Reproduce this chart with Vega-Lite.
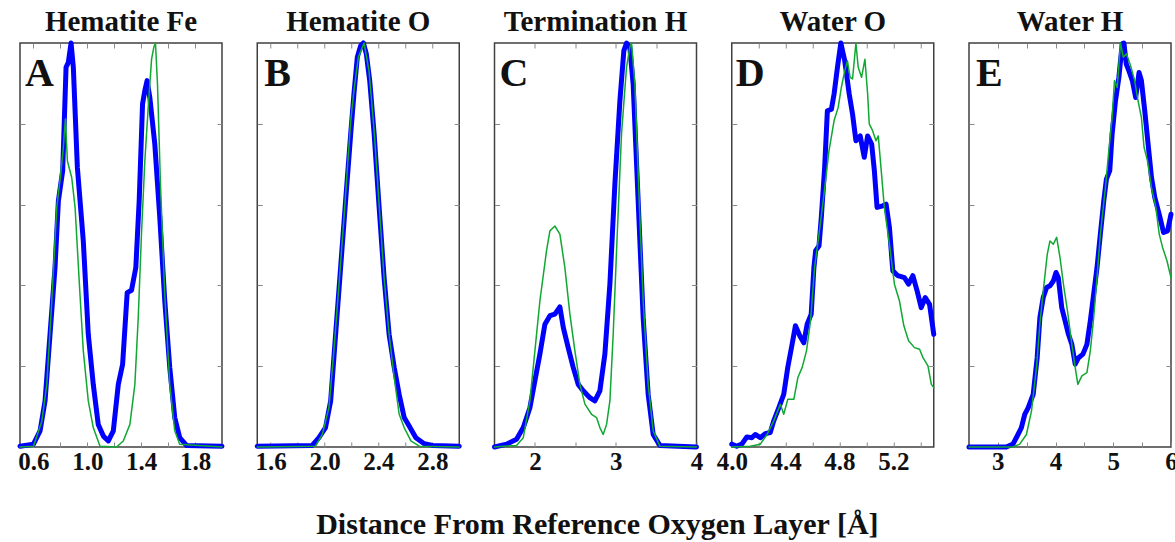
{
"$schema": "https://vega.github.io/schema/vega-lite/v6.json",
"padding": {"left": 16, "top": 6, "right": 0, "bottom": 0},
"background": "white",
"spacing": 35.25,
"bounds": "flush",
"title": {"text": "Distance From Reference Oxygen Layer [Å]", "orient": "bottom", "anchor": "middle", "fontSize": 30, "offset": 59, "baseline": "alphabetic"},
"config": {
  "view": {"stroke": "#404040", "strokeWidth": 1.5},
  "axis": {"domain": false, "grid": false, "tickColor": "#888888", "tickSize": -5, "tickWidth": 1, "labelFont": "Liberation Serif", "labelFontWeight": "bold", "labelFontSize": 25, "labelColor": "#111111", "labelPadding": 7, "labelFlush": false, "labelOverlap": false, "labelBound": false},
  "title": {"font": "Liberation Serif", "fontSize": 29, "fontWeight": "bold", "color": "#111111", "baseline": "alphabetic", "offset": 0},
  "line": {"strokeJoin": "round", "strokeCap": "round"}
},
"datasets": {
  "labels": [{"panel": "A", "letter": "A"}, {"panel": "B", "letter": "B"}, {"panel": "C", "letter": "C"}, {"panel": "D", "letter": "D"}, {"panel": "E", "letter": "E"}],
  "curves": [
{"panel":"A","series":"blue","x":0.5,"y":0.002},{"panel":"A","series":"blue","x":0.6,"y":0.007},{"panel":"A","series":"blue","x":0.649,"y":0.04},{"panel":"A","series":"blue","x":0.686,"y":0.114},{"panel":"A","series":"blue","x":0.723,"y":0.279},{"panel":"A","series":"blue","x":0.76,"y":0.444},{"panel":"A","series":"blue","x":0.785,"y":0.609},{"panel":"A","series":"blue","x":0.817,"y":0.684},{"panel":"A","series":"blue","x":0.842,"y":0.94},{"panel":"A","series":"blue","x":0.859,"y":0.952},{"panel":"A","series":"blue","x":0.879,"y":1.0},{"panel":"A","series":"blue","x":0.896,"y":0.94},{"panel":"A","series":"blue","x":0.926,"y":0.692},{"panel":"A","series":"blue","x":0.97,"y":0.51},{"panel":"A","series":"blue","x":1.007,"y":0.279},{"panel":"A","series":"blue","x":1.044,"y":0.155},{"panel":"A","series":"blue","x":1.081,"y":0.056},{"panel":"A","series":"blue","x":1.119,"y":0.027},{"panel":"A","series":"blue","x":1.156,"y":0.015},{"panel":"A","series":"blue","x":1.193,"y":0.04},{"panel":"A","series":"blue","x":1.23,"y":0.155},{"panel":"A","series":"blue","x":1.262,"y":0.205},{"panel":"A","series":"blue","x":1.296,"y":0.382},{"panel":"A","series":"blue","x":1.328,"y":0.388},{"panel":"A","series":"blue","x":1.36,"y":0.444},{"panel":"A","series":"blue","x":1.385,"y":0.609},{"panel":"A","series":"blue","x":1.41,"y":0.849},{"panel":"A","series":"blue","x":1.427,"y":0.882},{"panel":"A","series":"blue","x":1.444,"y":0.907},{"panel":"A","series":"blue","x":1.464,"y":0.865},{"panel":"A","series":"blue","x":1.501,"y":0.75},{"panel":"A","series":"blue","x":1.538,"y":0.568},{"panel":"A","series":"blue","x":1.575,"y":0.362},{"panel":"A","series":"blue","x":1.612,"y":0.197},{"panel":"A","series":"blue","x":1.649,"y":0.073},{"panel":"A","series":"blue","x":1.686,"y":0.023},{"panel":"A","series":"blue","x":1.736,"y":0.004},{"panel":"A","series":"blue","x":2.0,"y":0.002},
{"panel":"A","series":"green","x":0.5,"y":0},{"panel":"A","series":"green","x":0.6,"y":0.002},{"panel":"A","series":"green","x":0.662,"y":0.064},{"panel":"A","series":"green","x":0.699,"y":0.155},{"panel":"A","series":"green","x":0.736,"y":0.362},{"panel":"A","series":"green","x":0.773,"y":0.593},{"panel":"A","series":"green","x":0.802,"y":0.675},{"panel":"A","series":"green","x":0.822,"y":0.742},{"panel":"A","series":"green","x":0.837,"y":0.812},{"panel":"A","series":"green","x":0.852,"y":0.708},{"panel":"A","series":"green","x":0.884,"y":0.667},{"panel":"A","series":"green","x":0.909,"y":0.593},{"panel":"A","series":"green","x":0.941,"y":0.403},{"panel":"A","series":"green","x":0.97,"y":0.238},{"panel":"A","series":"green","x":1.007,"y":0.114},{"panel":"A","series":"green","x":1.044,"y":0.048},{"panel":"A","series":"green","x":1.094,"y":0.002},{"panel":"A","series":"green","x":1.217,"y":0},{"panel":"A","series":"green","x":1.267,"y":0.015},{"panel":"A","series":"green","x":1.316,"y":0.056},{"panel":"A","series":"green","x":1.353,"y":0.155},{"panel":"A","series":"green","x":1.378,"y":0.32},{"panel":"A","series":"green","x":1.402,"y":0.527},{"panel":"A","series":"green","x":1.427,"y":0.708},{"panel":"A","series":"green","x":1.452,"y":0.84},{"panel":"A","series":"green","x":1.477,"y":0.96},{"panel":"A","series":"green","x":1.494,"y":0.99},{"panel":"A","series":"green","x":1.506,"y":1.0},{"panel":"A","series":"green","x":1.521,"y":0.898},{"panel":"A","series":"green","x":1.543,"y":0.651},{"panel":"A","series":"green","x":1.575,"y":0.378},{"panel":"A","series":"green","x":1.612,"y":0.155},{"panel":"A","series":"green","x":1.649,"y":0.04},{"panel":"A","series":"green","x":1.686,"y":0.007},{"panel":"A","series":"green","x":2.0,"y":0},
{"panel":"B","series":"blue","x":1.5,"y":0.002},{"panel":"B","series":"blue","x":1.908,"y":0.004},{"panel":"B","series":"blue","x":1.958,"y":0.023},{"panel":"B","series":"blue","x":2.007,"y":0.048},{"panel":"B","series":"blue","x":2.045,"y":0.114},{"panel":"B","series":"blue","x":2.082,"y":0.279},{"panel":"B","series":"blue","x":2.119,"y":0.444},{"panel":"B","series":"blue","x":2.156,"y":0.609},{"panel":"B","series":"blue","x":2.194,"y":0.775},{"panel":"B","series":"blue","x":2.218,"y":0.874},{"panel":"B","series":"blue","x":2.243,"y":0.965},{"panel":"B","series":"blue","x":2.268,"y":0.993},{"panel":"B","series":"blue","x":2.288,"y":1.0},{"panel":"B","series":"blue","x":2.31,"y":0.973},{"panel":"B","series":"blue","x":2.335,"y":0.907},{"panel":"B","series":"blue","x":2.368,"y":0.775},{"panel":"B","series":"blue","x":2.405,"y":0.593},{"panel":"B","series":"blue","x":2.442,"y":0.419},{"panel":"B","series":"blue","x":2.479,"y":0.279},{"panel":"B","series":"blue","x":2.517,"y":0.197},{"panel":"B","series":"blue","x":2.554,"y":0.13},{"panel":"B","series":"blue","x":2.591,"y":0.073},{"panel":"B","series":"blue","x":2.628,"y":0.052},{"panel":"B","series":"blue","x":2.678,"y":0.023},{"panel":"B","series":"blue","x":2.74,"y":0.008},{"panel":"B","series":"blue","x":2.802,"y":0.004},{"panel":"B","series":"blue","x":3.0,"y":0.002},
{"panel":"B","series":"green","x":1.5,"y":0},{"panel":"B","series":"green","x":1.933,"y":0.002},{"panel":"B","series":"green","x":1.983,"y":0.031},{"panel":"B","series":"green","x":2.032,"y":0.097},{"panel":"B","series":"green","x":2.069,"y":0.238},{"panel":"B","series":"green","x":2.107,"y":0.403},{"panel":"B","series":"green","x":2.144,"y":0.568},{"panel":"B","series":"green","x":2.194,"y":0.808},{"panel":"B","series":"green","x":2.218,"y":0.882},{"panel":"B","series":"green","x":2.251,"y":0.965},{"panel":"B","series":"green","x":2.293,"y":1.0},{"panel":"B","series":"green","x":2.33,"y":0.931},{"panel":"B","series":"green","x":2.368,"y":0.783},{"panel":"B","series":"green","x":2.405,"y":0.601},{"panel":"B","series":"green","x":2.442,"y":0.419},{"panel":"B","series":"green","x":2.479,"y":0.279},{"panel":"B","series":"green","x":2.517,"y":0.172},{"panel":"B","series":"green","x":2.554,"y":0.081},{"panel":"B","series":"green","x":2.591,"y":0.048},{"panel":"B","series":"green","x":2.641,"y":0.015},{"panel":"B","series":"green","x":2.703,"y":0.002},{"panel":"B","series":"green","x":3.0,"y":0},
{"panel":"C","series":"blue","x":1.5,"y":0},{"panel":"C","series":"blue","x":1.649,"y":0.007},{"panel":"C","series":"blue","x":1.773,"y":0.019},{"panel":"C","series":"blue","x":1.856,"y":0.048},{"panel":"C","series":"blue","x":1.938,"y":0.097},{"panel":"C","series":"blue","x":2.0,"y":0.164},{"panel":"C","series":"blue","x":2.062,"y":0.23},{"panel":"C","series":"blue","x":2.124,"y":0.304},{"panel":"C","series":"blue","x":2.186,"y":0.325},{"panel":"C","series":"blue","x":2.247,"y":0.329},{"panel":"C","series":"blue","x":2.309,"y":0.347},{"panel":"C","series":"blue","x":2.351,"y":0.296},{"panel":"C","series":"blue","x":2.412,"y":0.246},{"panel":"C","series":"blue","x":2.474,"y":0.197},{"panel":"C","series":"blue","x":2.536,"y":0.155},{"panel":"C","series":"blue","x":2.598,"y":0.139},{"panel":"C","series":"blue","x":2.68,"y":0.122},{"panel":"C","series":"blue","x":2.742,"y":0.114},{"panel":"C","series":"blue","x":2.804,"y":0.139},{"panel":"C","series":"blue","x":2.866,"y":0.23},{"panel":"C","series":"blue","x":2.928,"y":0.403},{"panel":"C","series":"blue","x":2.99,"y":0.651},{"panel":"C","series":"blue","x":3.052,"y":0.857},{"panel":"C","series":"blue","x":3.101,"y":0.981},{"panel":"C","series":"blue","x":3.134,"y":1.0},{"panel":"C","series":"blue","x":3.175,"y":0.989},{"panel":"C","series":"blue","x":3.216,"y":0.898},{"panel":"C","series":"blue","x":3.278,"y":0.609},{"panel":"C","series":"blue","x":3.34,"y":0.32},{"panel":"C","series":"blue","x":3.402,"y":0.13},{"panel":"C","series":"blue","x":3.464,"y":0.031},{"panel":"C","series":"blue","x":3.546,"y":0.004},{"panel":"C","series":"blue","x":4.0,"y":0},
{"panel":"C","series":"green","x":1.5,"y":0},{"panel":"C","series":"green","x":1.773,"y":0.004},{"panel":"C","series":"green","x":1.856,"y":0.023},{"panel":"C","series":"green","x":1.938,"y":0.114},{"panel":"C","series":"green","x":2.0,"y":0.238},{"panel":"C","series":"green","x":2.062,"y":0.362},{"panel":"C","series":"green","x":2.144,"y":0.486},{"panel":"C","series":"green","x":2.186,"y":0.535},{"panel":"C","series":"green","x":2.247,"y":0.547},{"panel":"C","series":"green","x":2.309,"y":0.527},{"panel":"C","series":"green","x":2.371,"y":0.444},{"panel":"C","series":"green","x":2.433,"y":0.329},{"panel":"C","series":"green","x":2.495,"y":0.238},{"panel":"C","series":"green","x":2.557,"y":0.155},{"panel":"C","series":"green","x":2.619,"y":0.106},{"panel":"C","series":"green","x":2.701,"y":0.081},{"panel":"C","series":"green","x":2.763,"y":0.073},{"panel":"C","series":"green","x":2.804,"y":0.048},{"panel":"C","series":"green","x":2.845,"y":0.031},{"panel":"C","series":"green","x":2.887,"y":0.056},{"panel":"C","series":"green","x":2.928,"y":0.114},{"panel":"C","series":"green","x":2.969,"y":0.279},{"panel":"C","series":"green","x":3.019,"y":0.527},{"panel":"C","series":"green","x":3.072,"y":0.775},{"panel":"C","series":"green","x":3.134,"y":0.94},{"panel":"C","series":"green","x":3.175,"y":0.989},{"panel":"C","series":"green","x":3.196,"y":1.0},{"panel":"C","series":"green","x":3.237,"y":0.898},{"panel":"C","series":"green","x":3.291,"y":0.609},{"panel":"C","series":"green","x":3.34,"y":0.362},{"panel":"C","series":"green","x":3.402,"y":0.155},{"panel":"C","series":"green","x":3.464,"y":0.04},{"panel":"C","series":"green","x":3.546,"y":0.002},{"panel":"C","series":"green","x":4.0,"y":0},
{"panel":"D","series":"blue","x":4.0,"y":0.007},{"panel":"D","series":"blue","x":4.037,"y":0.002},{"panel":"D","series":"blue","x":4.075,"y":0.007},{"panel":"D","series":"blue","x":4.112,"y":0.025},{"panel":"D","series":"blue","x":4.149,"y":0.023},{"panel":"D","series":"blue","x":4.174,"y":0.031},{"panel":"D","series":"blue","x":4.212,"y":0.023},{"panel":"D","series":"blue","x":4.249,"y":0.033},{"panel":"D","series":"blue","x":4.286,"y":0.036},{"panel":"D","series":"blue","x":4.311,"y":0.064},{"panel":"D","series":"blue","x":4.349,"y":0.097},{"panel":"D","series":"blue","x":4.386,"y":0.13},{"panel":"D","series":"blue","x":4.416,"y":0.197},{"panel":"D","series":"blue","x":4.448,"y":0.254},{"panel":"D","series":"blue","x":4.473,"y":0.3},{"panel":"D","series":"blue","x":4.506,"y":0.275},{"panel":"D","series":"blue","x":4.535,"y":0.258},{"panel":"D","series":"blue","x":4.56,"y":0.304},{"panel":"D","series":"blue","x":4.59,"y":0.329},{"panel":"D","series":"blue","x":4.61,"y":0.444},{"panel":"D","series":"blue","x":4.623,"y":0.486},{"panel":"D","series":"blue","x":4.648,"y":0.498},{"panel":"D","series":"blue","x":4.665,"y":0.568},{"panel":"D","series":"blue","x":4.69,"y":0.692},{"panel":"D","series":"blue","x":4.71,"y":0.832},{"panel":"D","series":"blue","x":4.74,"y":0.836},{"panel":"D","series":"blue","x":4.76,"y":0.874},{"panel":"D","series":"blue","x":4.785,"y":0.94},{"panel":"D","series":"blue","x":4.81,"y":1.0},{"panel":"D","series":"blue","x":4.839,"y":0.956},{"panel":"D","series":"blue","x":4.872,"y":0.874},{"panel":"D","series":"blue","x":4.897,"y":0.824},{"panel":"D","series":"blue","x":4.922,"y":0.758},{"panel":"D","series":"blue","x":4.954,"y":0.77},{"panel":"D","series":"blue","x":4.984,"y":0.717},{"panel":"D","series":"blue","x":5.009,"y":0.77},{"panel":"D","series":"blue","x":5.039,"y":0.75},{"panel":"D","series":"blue","x":5.059,"y":0.684},{"panel":"D","series":"blue","x":5.079,"y":0.593},{"panel":"D","series":"blue","x":5.121,"y":0.597},{"panel":"D","series":"blue","x":5.146,"y":0.601},{"panel":"D","series":"blue","x":5.171,"y":0.543},{"panel":"D","series":"blue","x":5.196,"y":0.436},{"panel":"D","series":"blue","x":5.233,"y":0.424},{"panel":"D","series":"blue","x":5.283,"y":0.419},{"panel":"D","series":"blue","x":5.313,"y":0.403},{"panel":"D","series":"blue","x":5.345,"y":0.424},{"panel":"D","series":"blue","x":5.377,"y":0.386},{"panel":"D","series":"blue","x":5.407,"y":0.345},{"panel":"D","series":"blue","x":5.437,"y":0.37},{"panel":"D","series":"blue","x":5.469,"y":0.353},{"panel":"D","series":"blue","x":5.5,"y":0.279},
{"panel":"D","series":"green","x":4.0,"y":0},{"panel":"D","series":"green","x":4.137,"y":0.002},{"panel":"D","series":"green","x":4.212,"y":0.007},{"panel":"D","series":"green","x":4.262,"y":0.031},{"panel":"D","series":"green","x":4.311,"y":0.064},{"panel":"D","series":"green","x":4.361,"y":0.106},{"panel":"D","series":"green","x":4.386,"y":0.081},{"panel":"D","series":"green","x":4.416,"y":0.118},{"panel":"D","series":"green","x":4.461,"y":0.118},{"panel":"D","series":"green","x":4.491,"y":0.172},{"panel":"D","series":"green","x":4.523,"y":0.197},{"panel":"D","series":"green","x":4.555,"y":0.238},{"panel":"D","series":"green","x":4.585,"y":0.312},{"panel":"D","series":"green","x":4.615,"y":0.444},{"panel":"D","series":"green","x":4.648,"y":0.527},{"panel":"D","series":"green","x":4.685,"y":0.626},{"panel":"D","series":"green","x":4.722,"y":0.733},{"panel":"D","series":"green","x":4.76,"y":0.808},{"panel":"D","series":"green","x":4.79,"y":0.84},{"panel":"D","series":"green","x":4.814,"y":0.89},{"panel":"D","series":"green","x":4.839,"y":0.931},{"panel":"D","series":"green","x":4.859,"y":0.956},{"panel":"D","series":"green","x":4.879,"y":0.915},{"panel":"D","series":"green","x":4.897,"y":0.911},{"panel":"D","series":"green","x":4.922,"y":1.0},{"panel":"D","series":"green","x":4.939,"y":0.94},{"panel":"D","series":"green","x":4.964,"y":0.915},{"panel":"D","series":"green","x":4.989,"y":0.96},{"panel":"D","series":"green","x":5.009,"y":0.874},{"panel":"D","series":"green","x":5.021,"y":0.8},{"panel":"D","series":"green","x":5.046,"y":0.783},{"panel":"D","series":"green","x":5.071,"y":0.758},{"panel":"D","series":"green","x":5.088,"y":0.77},{"panel":"D","series":"green","x":5.108,"y":0.692},{"panel":"D","series":"green","x":5.133,"y":0.593},{"panel":"D","series":"green","x":5.171,"y":0.502},{"panel":"D","series":"green","x":5.208,"y":0.403},{"panel":"D","series":"green","x":5.245,"y":0.362},{"panel":"D","series":"green","x":5.278,"y":0.3},{"panel":"D","series":"green","x":5.313,"y":0.263},{"panel":"D","series":"green","x":5.357,"y":0.246},{"panel":"D","series":"green","x":5.395,"y":0.242},{"panel":"D","series":"green","x":5.42,"y":0.221},{"panel":"D","series":"green","x":5.457,"y":0.201},{"panel":"D","series":"green","x":5.482,"y":0.155},{"panel":"D","series":"green","x":5.5,"y":0.147},
{"panel":"E","series":"blue","x":2.5,"y":0},{"panel":"E","series":"blue","x":3.146,"y":0},{"panel":"E","series":"blue","x":3.262,"y":0.007},{"panel":"E","series":"blue","x":3.349,"y":0.031},{"panel":"E","series":"blue","x":3.408,"y":0.048},{"panel":"E","series":"blue","x":3.466,"y":0.081},{"panel":"E","series":"blue","x":3.524,"y":0.097},{"panel":"E","series":"blue","x":3.612,"y":0.13},{"panel":"E","series":"blue","x":3.681,"y":0.221},{"panel":"E","series":"blue","x":3.728,"y":0.32},{"panel":"E","series":"blue","x":3.786,"y":0.37},{"panel":"E","series":"blue","x":3.845,"y":0.395},{"panel":"E","series":"blue","x":3.903,"y":0.399},{"panel":"E","series":"blue","x":3.961,"y":0.411},{"panel":"E","series":"blue","x":4.008,"y":0.432},{"panel":"E","series":"blue","x":4.048,"y":0.419},{"panel":"E","series":"blue","x":4.107,"y":0.345},{"panel":"E","series":"blue","x":4.165,"y":0.312},{"panel":"E","series":"blue","x":4.223,"y":0.279},{"panel":"E","series":"blue","x":4.282,"y":0.254},{"panel":"E","series":"blue","x":4.34,"y":0.205},{"panel":"E","series":"blue","x":4.398,"y":0.221},{"panel":"E","series":"blue","x":4.474,"y":0.23},{"panel":"E","series":"blue","x":4.543,"y":0.254},{"panel":"E","series":"blue","x":4.602,"y":0.312},{"panel":"E","series":"blue","x":4.66,"y":0.378},{"panel":"E","series":"blue","x":4.718,"y":0.444},{"panel":"E","series":"blue","x":4.776,"y":0.527},{"panel":"E","series":"blue","x":4.835,"y":0.609},{"panel":"E","series":"blue","x":4.881,"y":0.663},{"panel":"E","series":"blue","x":4.939,"y":0.684},{"panel":"E","series":"blue","x":4.98,"y":0.775},{"panel":"E","series":"blue","x":5.038,"y":0.857},{"panel":"E","series":"blue","x":5.097,"y":0.915},{"panel":"E","series":"blue","x":5.155,"y":0.998},{"panel":"E","series":"blue","x":5.184,"y":1.0},{"panel":"E","series":"blue","x":5.225,"y":0.948},{"panel":"E","series":"blue","x":5.271,"y":0.931},{"panel":"E","series":"blue","x":5.33,"y":0.907},{"panel":"E","series":"blue","x":5.388,"y":0.865},{"panel":"E","series":"blue","x":5.446,"y":0.927},{"panel":"E","series":"blue","x":5.487,"y":0.907},{"panel":"E","series":"blue","x":5.545,"y":0.832},{"panel":"E","series":"blue","x":5.603,"y":0.75},{"panel":"E","series":"blue","x":5.662,"y":0.667},{"panel":"E","series":"blue","x":5.72,"y":0.617},{"panel":"E","series":"blue","x":5.796,"y":0.576},{"panel":"E","series":"blue","x":5.871,"y":0.531},{"panel":"E","series":"blue","x":5.941,"y":0.535},{"panel":"E","series":"blue","x":6.0,"y":0.576},
{"panel":"E","series":"green","x":2.5,"y":0},{"panel":"E","series":"green","x":3.262,"y":0},{"panel":"E","series":"green","x":3.379,"y":0.007},{"panel":"E","series":"green","x":3.495,"y":0.031},{"panel":"E","series":"green","x":3.582,"y":0.089},{"panel":"E","series":"green","x":3.67,"y":0.197},{"panel":"E","series":"green","x":3.728,"y":0.305},{"panel":"E","series":"green","x":3.786,"y":0.386},{"panel":"E","series":"green","x":3.856,"y":0.477},{"panel":"E","series":"green","x":3.903,"y":0.51},{"panel":"E","series":"green","x":3.961,"y":0.502},{"panel":"E","series":"green","x":4.019,"y":0.519},{"panel":"E","series":"green","x":4.077,"y":0.469},{"panel":"E","series":"green","x":4.136,"y":0.403},{"panel":"E","series":"green","x":4.206,"y":0.337},{"panel":"E","series":"green","x":4.282,"y":0.254},{"panel":"E","series":"green","x":4.34,"y":0.197},{"panel":"E","series":"green","x":4.386,"y":0.155},{"panel":"E","series":"green","x":4.456,"y":0.176},{"panel":"E","series":"green","x":4.543,"y":0.184},{"panel":"E","series":"green","x":4.602,"y":0.238},{"panel":"E","series":"green","x":4.66,"y":0.32},{"panel":"E","series":"green","x":4.718,"y":0.419},{"panel":"E","series":"green","x":4.776,"y":0.527},{"panel":"E","series":"green","x":4.864,"y":0.642},{"panel":"E","series":"green","x":4.922,"y":0.733},{"panel":"E","series":"green","x":4.98,"y":0.816},{"panel":"E","series":"green","x":5.021,"y":0.907},{"panel":"E","series":"green","x":5.068,"y":0.89},{"panel":"E","series":"green","x":5.126,"y":1.0},{"panel":"E","series":"green","x":5.172,"y":0.965},{"panel":"E","series":"green","x":5.23,"y":0.973},{"panel":"E","series":"green","x":5.3,"y":0.944},{"panel":"E","series":"green","x":5.37,"y":0.907},{"panel":"E","series":"green","x":5.429,"y":0.857},{"panel":"E","series":"green","x":5.487,"y":0.816},{"panel":"E","series":"green","x":5.533,"y":0.742},{"panel":"E","series":"green","x":5.592,"y":0.709},{"panel":"E","series":"green","x":5.662,"y":0.642},{"panel":"E","series":"green","x":5.737,"y":0.593},{"panel":"E","series":"green","x":5.796,"y":0.527},{"panel":"E","series":"green","x":5.854,"y":0.494},{"panel":"E","series":"green","x":5.93,"y":0.461},{"panel":"E","series":"green","x":6.0,"y":0.419}
  ]
},
"hconcat": [
{
  "width": 202, "height": 404, "title": "Hematite Fe",
  "layer": [
    {"data": {"name": "curves"}, "transform": [{"filter": "datum.panel === 'A' && datum.series === 'blue'"}],
     "mark": {"type": "line", "color": "#0000ff", "strokeWidth": 5},
     "encoding": {"x": {"field": "x", "type": "quantitative", "scale": {"domain": [0.5, 2.0], "nice": false, "zero": false}, "axis": {"orient": "bottom", "title": null, "values": [0.6, 0.8, 1.0, 1.2, 1.4, 1.6, 1.8], "labelExpr": "round(datum.value*10) % 4 == 2 ? format(datum.value, '.1f') : ''"}},
                  "y": {"field": "y", "type": "quantitative", "scale": {"domain": [0, 1], "nice": false}, "axis": {"orient": "left", "title": null, "values": [0.2, 0.4, 0.6, 0.8], "labels": false}}}},
    {"data": {"name": "curves"}, "transform": [{"filter": "datum.panel === 'A' && datum.series === 'green'"}],
     "mark": {"type": "line", "color": "#10a832", "strokeWidth": 1.5},
     "encoding": {"x": {"field": "x", "type": "quantitative", "axis": {"orient": "top", "title": null, "values": [0.6, 0.8, 1.0, 1.2, 1.4, 1.6, 1.8], "labels": false}},
                  "y": {"field": "y", "type": "quantitative", "axis": {"orient": "right", "title": null, "values": [0.2, 0.4, 0.6, 0.8], "labels": false}}}},
    {"data": {"name": "labels"}, "transform": [{"filter": "datum.panel === 'A'"}],
     "mark": {"type": "text", "font": "Liberation Serif", "fontWeight": "bold", "fontSize": 40, "align": "left", "baseline": "alphabetic", "dx": 5, "dy": 43, "color": "#111111"},
     "encoding": {"x": {"datum": 0.5, "type": "quantitative", "axis": null}, "y": {"datum": 1, "type": "quantitative", "axis": null}, "text": {"field": "letter"}}}
  ],
  "resolve": {"axis": {"x": "independent", "y": "independent"}}
},
{
  "width": 202, "height": 404, "title": "Hematite O",
  "layer": [
    {"data": {"name": "curves"}, "transform": [{"filter": "datum.panel === 'B' && datum.series === 'blue'"}],
     "mark": {"type": "line", "color": "#0000ff", "strokeWidth": 5},
     "encoding": {"x": {"field": "x", "type": "quantitative", "scale": {"domain": [1.5, 3.0], "nice": false, "zero": false}, "axis": {"orient": "bottom", "title": null, "values": [1.6, 1.8, 2.0, 2.2, 2.4, 2.6, 2.8], "labelExpr": "round(datum.value*10) % 4 == 0 ? format(datum.value, '.1f') : ''"}},
                  "y": {"field": "y", "type": "quantitative", "scale": {"domain": [0, 1], "nice": false}, "axis": {"orient": "left", "title": null, "values": [0.2, 0.4, 0.6, 0.8], "labels": false}}}},
    {"data": {"name": "curves"}, "transform": [{"filter": "datum.panel === 'B' && datum.series === 'green'"}],
     "mark": {"type": "line", "color": "#10a832", "strokeWidth": 1.5},
     "encoding": {"x": {"field": "x", "type": "quantitative", "axis": {"orient": "top", "title": null, "values": [1.6, 1.8, 2.0, 2.2, 2.4, 2.6, 2.8], "labels": false}},
                  "y": {"field": "y", "type": "quantitative", "axis": {"orient": "right", "title": null, "values": [0.2, 0.4, 0.6, 0.8], "labels": false}}}},
    {"data": {"name": "labels"}, "transform": [{"filter": "datum.panel === 'B'"}],
     "mark": {"type": "text", "font": "Liberation Serif", "fontWeight": "bold", "fontSize": 40, "align": "left", "baseline": "alphabetic", "dx": 7, "dy": 43, "color": "#111111"},
     "encoding": {"x": {"datum": 1.5, "type": "quantitative", "axis": null}, "y": {"datum": 1, "type": "quantitative", "axis": null}, "text": {"field": "letter"}}}
  ],
  "resolve": {"axis": {"x": "independent", "y": "independent"}}
},
{
  "width": 202, "height": 404, "title": "Termination H",
  "layer": [
    {"data": {"name": "curves"}, "transform": [{"filter": "datum.panel === 'C' && datum.series === 'blue'"}],
     "mark": {"type": "line", "color": "#0000ff", "strokeWidth": 5},
     "encoding": {"x": {"field": "x", "type": "quantitative", "scale": {"domain": [1.5, 4.0], "nice": false, "zero": false}, "axis": {"orient": "bottom", "title": null, "values": [2, 2.5, 3, 3.5, 4], "labelExpr": "datum.value % 1 == 0 ? format(datum.value, 'd') : ''"}},
                  "y": {"field": "y", "type": "quantitative", "scale": {"domain": [0, 1], "nice": false}, "axis": {"orient": "left", "title": null, "values": [0.2, 0.4, 0.6, 0.8], "labels": false}}}},
    {"data": {"name": "curves"}, "transform": [{"filter": "datum.panel === 'C' && datum.series === 'green'"}],
     "mark": {"type": "line", "color": "#10a832", "strokeWidth": 1.5},
     "encoding": {"x": {"field": "x", "type": "quantitative", "axis": {"orient": "top", "title": null, "values": [2, 2.5, 3, 3.5], "labels": false}},
                  "y": {"field": "y", "type": "quantitative", "axis": {"orient": "right", "title": null, "values": [0.2, 0.4, 0.6, 0.8], "labels": false}}}},
    {"data": {"name": "labels"}, "transform": [{"filter": "datum.panel === 'C'"}],
     "mark": {"type": "text", "font": "Liberation Serif", "fontWeight": "bold", "fontSize": 40, "align": "left", "baseline": "alphabetic", "dx": 5, "dy": 43, "color": "#111111"},
     "encoding": {"x": {"datum": 1.5, "type": "quantitative", "axis": null}, "y": {"datum": 1, "type": "quantitative", "axis": null}, "text": {"field": "letter"}}}
  ],
  "resolve": {"axis": {"x": "independent", "y": "independent"}}
},
{
  "width": 202, "height": 404, "title": "Water O",
  "layer": [
    {"data": {"name": "curves"}, "transform": [{"filter": "datum.panel === 'D' && datum.series === 'blue'"}],
     "mark": {"type": "line", "color": "#0000ff", "strokeWidth": 5},
     "encoding": {"x": {"field": "x", "type": "quantitative", "scale": {"domain": [4.0, 5.5], "nice": false, "zero": false}, "axis": {"orient": "bottom", "title": null, "values": [4.0, 4.2, 4.4, 4.6, 4.8, 5.0, 5.2, 5.4], "labelExpr": "round(datum.value*10) % 4 == 0 ? format(datum.value, '.1f') : ''"}},
                  "y": {"field": "y", "type": "quantitative", "scale": {"domain": [0, 1], "nice": false}, "axis": {"orient": "left", "title": null, "values": [0.2, 0.4, 0.6, 0.8], "labels": false}}}},
    {"data": {"name": "curves"}, "transform": [{"filter": "datum.panel === 'D' && datum.series === 'green'"}],
     "mark": {"type": "line", "color": "#10a832", "strokeWidth": 1.5},
     "encoding": {"x": {"field": "x", "type": "quantitative", "axis": {"orient": "top", "title": null, "values": [4.2, 4.4, 4.6, 4.8, 5.0, 5.2, 5.4], "labels": false}},
                  "y": {"field": "y", "type": "quantitative", "axis": {"orient": "right", "title": null, "values": [0.2, 0.4, 0.6, 0.8], "labels": false}}}},
    {"data": {"name": "labels"}, "transform": [{"filter": "datum.panel === 'D'"}],
     "mark": {"type": "text", "font": "Liberation Serif", "fontWeight": "bold", "fontSize": 40, "align": "left", "baseline": "alphabetic", "dx": 4, "dy": 43, "color": "#111111"},
     "encoding": {"x": {"datum": 4.0, "type": "quantitative", "axis": null}, "y": {"datum": 1, "type": "quantitative", "axis": null}, "text": {"field": "letter"}}}
  ],
  "resolve": {"axis": {"x": "independent", "y": "independent"}}
},
{
  "width": 202, "height": 404, "title": "Water H",
  "layer": [
    {"data": {"name": "curves"}, "transform": [{"filter": "datum.panel === 'E' && datum.series === 'blue'"}],
     "mark": {"type": "line", "color": "#0000ff", "strokeWidth": 5},
     "encoding": {"x": {"field": "x", "type": "quantitative", "scale": {"domain": [2.5, 6.0], "nice": false, "zero": false}, "axis": {"orient": "bottom", "title": null, "values": [3, 3.5, 4, 4.5, 5, 5.5, 6], "labelExpr": "datum.value % 1 == 0 ? format(datum.value, 'd') : ''"}},
                  "y": {"field": "y", "type": "quantitative", "scale": {"domain": [0, 1], "nice": false}, "axis": {"orient": "left", "title": null, "values": [0.2, 0.4, 0.6, 0.8], "labels": false}}}},
    {"data": {"name": "curves"}, "transform": [{"filter": "datum.panel === 'E' && datum.series === 'green'"}],
     "mark": {"type": "line", "color": "#10a832", "strokeWidth": 1.5},
     "encoding": {"x": {"field": "x", "type": "quantitative", "axis": {"orient": "top", "title": null, "values": [3, 3.5, 4, 4.5, 5, 5.5], "labels": false}},
                  "y": {"field": "y", "type": "quantitative", "axis": {"orient": "right", "title": null, "values": [0.2, 0.4, 0.6, 0.8], "labels": false}}}},
    {"data": {"name": "labels"}, "transform": [{"filter": "datum.panel === 'E'"}],
     "mark": {"type": "text", "font": "Liberation Serif", "fontWeight": "bold", "fontSize": 40, "align": "left", "baseline": "alphabetic", "dx": 7, "dy": 43, "color": "#111111"},
     "encoding": {"x": {"datum": 2.5, "type": "quantitative", "axis": null}, "y": {"datum": 1, "type": "quantitative", "axis": null}, "text": {"field": "letter"}}}
  ],
  "resolve": {"axis": {"x": "independent", "y": "independent"}}
}
]
}
